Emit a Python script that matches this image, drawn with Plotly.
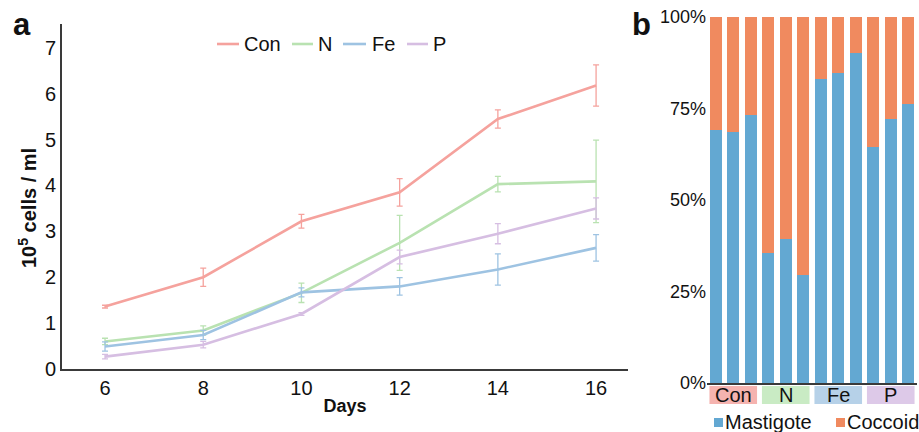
import plotly.graph_objects as go

days = [6, 8, 10, 12, 14, 16]
series_names = ["Con", "N", "Fe", "P"]
con_vals = [1.36, 2.00, 3.22, 3.85, 5.45, 6.18]
con_err = [0.03, 0.20, 0.15, 0.30, 0.20, 0.45]
n_vals = [0.60, 0.84, 1.66, 2.75, 4.03, 4.09]
n_err = [0.07, 0.10, 0.21, 0.60, 0.17, 0.90]
fe_vals = [0.49, 0.74, 1.67, 1.80, 2.17, 2.64]
fe_err = [0.10, 0.10, 0.10, 0.19, 0.34, 0.29]
p_vals = [0.27, 0.53, 1.20, 2.44, 2.95, 3.50]
p_err = [0.05, 0.07, 0.03, 0.15, 0.22, 0.23]
line_colors = ["#F5A29D", "#B9E2B1", "#9EC3E2", "#D6BEE2"]

groups = ["Con", "N", "Fe", "P"]
group_colors = ["#F5B3AF", "#C9EBC4", "#B6D1E8", "#DDC9E8"]
replicates = 3
mastigote = [0.691, 0.687, 0.732, 0.354, 0.393, 0.295, 0.830, 0.848, 0.901, 0.646, 0.720, 0.761]
coccoid = [1 - v for v in mastigote]
bar_names = ["Mastigote", "Coccoid"]
bar_colors = ["#63A8D2", "#F08A5F"]

FONT = "Liberation Sans, Arial, sans-serif"
W, H = 919, 432
TXT = "#111111"

fig = go.Figure()

vals = [con_vals, n_vals, fe_vals, p_vals]
errs = [con_err, n_err, fe_err, p_err]
for name, v, e, c in zip(series_names, vals, errs, line_colors):
    fig.add_trace(go.Scatter(
        x=days, y=v, name=name, mode="lines",
        line=dict(color=c, width=2.6),
        error_y=dict(type="data", array=e, visible=True, color=c, thickness=1.3, width=3),
        xaxis="x", yaxis="y", showlegend=False,
    ))

bar_x = list(range(len(mastigote)))
for name, v, c in zip(bar_names, [mastigote, coccoid], bar_colors):
    fig.add_trace(go.Bar(x=bar_x, y=v, name=name, marker=dict(color=c, line=dict(width=0)),
                         xaxis="x2", yaxis="y2", showlegend=False))

axis_col = "#3a3a3a"
fig.update_layout(
    width=W, height=H,
    margin=dict(l=0, r=0, t=0, b=0, autoexpand=False),
    paper_bgcolor="white", plot_bgcolor="white",
    font=dict(family=FONT, color=TXT, size=20),
    barmode="stack", bargap=0.29,
    showlegend=False,
    xaxis=dict(domain=[62 / W, 628 / W], range=[5.124, 16.65], tickvals=days,
               showgrid=False, zeroline=False, showline=True, linecolor=axis_col, linewidth=1.6,
               ticks="", tickfont=dict(size=20, color=TXT), automargin=False,
               title=dict(text="<b>Days</b>", font=dict(size=18, color=TXT), standoff=2),
               anchor="y"),
    yaxis=dict(domain=[(H - 369) / H, (H - 24) / H], range=[0, 7.52], tickvals=list(range(8)),
               showgrid=False, zeroline=False, showline=True, linecolor=axis_col, linewidth=1.6,
               ticks="", tickfont=dict(size=20, color=TXT), automargin=False,
               anchor="x"),
    xaxis2=dict(domain=[707 / W, 917 / W], range=[-0.5, 11.5], showticklabels=False, ticks="",
                showgrid=False, zeroline=False, showline=True, linecolor=axis_col, linewidth=1.6,
                automargin=False, anchor="y2"),
    yaxis2=dict(domain=[(H - 383) / H, (H - 17) / H], range=[0, 1], tickvals=[0, 0.25, 0.5, 0.75, 1],
                tickformat=".0%", showgrid=False, zeroline=False, showline=False, ticks="",
                tickfont=dict(size=18, color=TXT), automargin=False, anchor="x2"),
)

# y-axis title of panel a
fig.add_annotation(x=27 / W, y=(H - 208) / H, xref="paper", yref="paper",
                   text="<b>10<sup>5</sup> cells / ml</b>", textangle=-90, showarrow=False,
                   xanchor="center", yanchor="middle", font=dict(size=20, color=TXT), borderpad=0)

# legend for panel a (line samples + labels)
leg_a = [(217, 239, 243), (292, 313, 317), (343, 366, 371), (407, 428, 432)]
for (x0, x1, xt), name, c in zip(leg_a, series_names, line_colors):
    fig.add_shape(type="line", xref="paper", yref="paper", x0=x0 / W, x1=x1 / W,
                  y0=(H - 44) / H, y1=(H - 44) / H, line=dict(color=c, width=2.6))
    fig.add_annotation(x=xt / W, y=(H - 44) / H, xref="paper", yref="paper", text=name,
                       showarrow=False, xanchor="left", yanchor="middle",
                       font=dict(size=20, color=TXT), borderpad=0)

# legend for panel b (squares + labels)
leg_b = [(714, 724, 20), (836, 846, 20)]
for (xs, xt, fs), name, c in zip(leg_b, bar_names, bar_colors):
    fig.add_shape(type="rect", xref="paper", yref="paper", x0=xs / W, x1=(xs + 9) / W,
                  y0=(H - 427) / H, y1=(H - 418) / H, fillcolor=c, line=dict(width=0))
    fig.add_annotation(x=xt / W, y=(H - 422) / H, xref="paper", yref="paper", text=name,
                       showarrow=False, xanchor="left", yanchor="middle",
                       font=dict(size=fs, color=TXT), borderpad=0)

# group label boxes under bars
for i, (g, gc) in enumerate(zip(groups, group_colors)):
    x0 = i * replicates - 0.36
    x1 = i * replicates + replicates - 1 + 0.36
    fig.add_shape(type="rect", xref="x2", yref="paper", x0=x0, x1=x1,
                  y0=(H - 404) / H, y1=(H - 386) / H, fillcolor=gc, line=dict(width=0), layer="below")
    fig.add_annotation(x=i * replicates + (replicates - 1) / 2, y=(H - 395) / H, xref="x2", yref="paper",
                       text=g, showarrow=False, font=dict(size=20, color=TXT), yanchor="middle")

fig.add_annotation(x=12 / W, y=(H - 24) / H, xref="paper", yref="paper", text="<b>a</b>",
                   showarrow=False, font=dict(size=31, color=TXT), xanchor="left", yanchor="middle",
                   borderpad=0)
fig.add_annotation(x=631 / W, y=(H - 24) / H, xref="paper", yref="paper", text="<b>b</b>",
                   showarrow=False, font=dict(size=31, color=TXT), xanchor="left", yanchor="middle",
                   borderpad=0)

fig.write_html(
    "out.html",
    config={"displayModeBar": False},
    post_script="document.body.style.margin='0';document.body.style.padding='0';"
                "document.body.style.overflow='hidden';",
)
